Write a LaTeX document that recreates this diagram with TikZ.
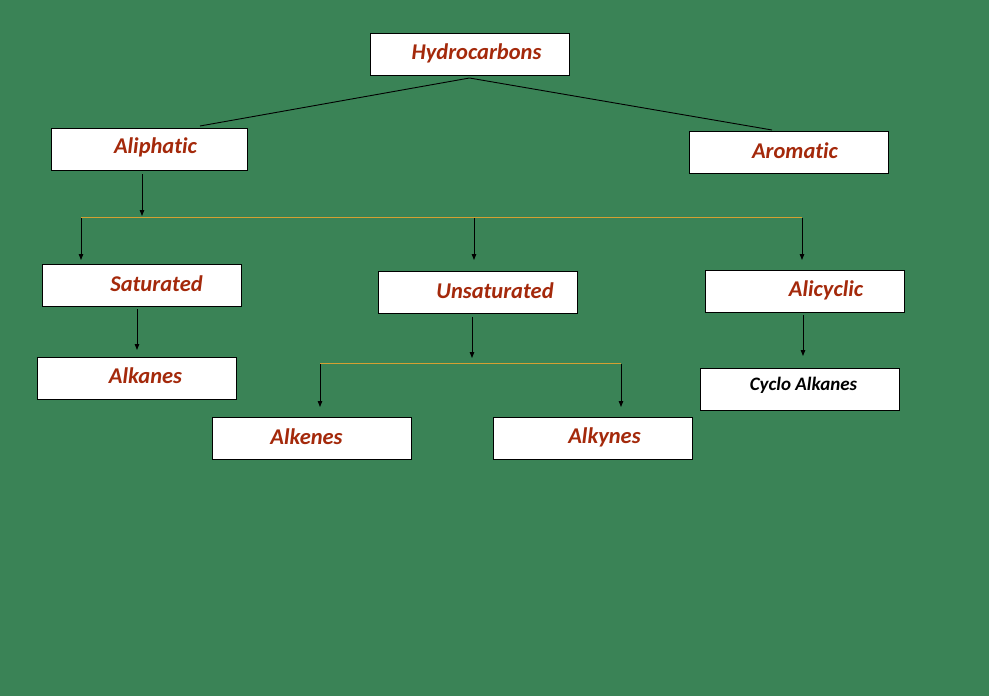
\documentclass[tikz,border=0pt]{standalone}
\usepackage{fontspec}
\setmainfont{Carlito}[RawFeature=-liga]
\usetikzlibrary{arrows.meta,calc}
\definecolor{bggreen}{HTML}{3A8356}
\definecolor{txtred}{HTML}{A4290B}
\definecolor{busline}{HTML}{D4A032}
\tikzset{
  box/.style={draw=black, line width=1pt, fill=white, minimum width=199pt, minimum height=42pt, inner sep=0pt, anchor=north west},
  lbl/.style={text=txtred, font=\fontsize{22.5}{26}\selectfont\bfseries\itshape, inner sep=0pt},
  lblk/.style={text=black, font=\fontsize{19}{22}\selectfont\bfseries\itshape, inner sep=0pt},
  conn/.style={draw=black, line width=0.9pt},
  arr/.style={draw=black, line width=0.9pt, -{Triangle[length=6pt,width=4.5pt]}},
  bus/.style={draw=busline, line width=0.9pt}
}
\begin{document}
\begin{tikzpicture}[x=1pt,y=-1pt]
\fill[bggreen] (0,0) rectangle (989,696);
\useasboundingbox (0,0) rectangle (989,696);
% boxes
\node[box] (hyd) at (370,33) {};
\node[box, minimum width=196pt] (ali) at (51,128) {};
\node[box] (aro) at (689,131) {};
\node[box] (sat) at (42,264) {};
\node[box] (uns) at (378,271) {};
\node[box] (acy) at (705,270) {};
\node[box] (alk) at (37,357) {};
\node[box] (ene) at (212,417) {};
\node[box] (yne) at (493,417) {};
\node[box] (cyc) at (700,368) {};
% texts
\node[lbl] (hydT) at (476.5,53) {Hydrocarbons};
\node[lbl] (aliT) at (155.5,147) {Aliphatic};
\node[lbl] (aroT) at (795,151) {Aromatic};
\node[lbl] (satT) at (156.5,284) {Saturated};
\node[lbl] (unsT) at (495,291) {Unsaturated};
\node[lbl] (acyT) at (826,290) {Alicyclic};
\node[lbl] (alkT) at (145.5,376) {Alkanes};
\node[lbl] (eneT) at (306.5,437) {Alkenes};
\node[lbl] (yneT) at (604.5,437) {Alkynes};
\node[lblk] (cycT) at (803.5,385) {Cyclo Alkanes};
% top connectors
\coordinate (hydB) at ($(hyd.south)+(-0.5,2)$);
\coordinate (aliTop) at ($(ali.north west)+(149,-2)$);
\coordinate (aroTop) at ($(aro.north west)+(83,-1)$);
\draw[conn] (hydB) -- (aliTop);
\draw[conn] (hydB) -- (aroTop);
% aliphatic branch
\coordinate (aliB) at (142,174);
\coordinate (bus1L) at (81,217);
\coordinate (bus1M) at (474,217);
\coordinate (bus1R) at (802,217);
\coordinate (bus1Mid) at (142,216);
\draw[bus] (bus1L) -- (bus1R);
\draw[arr] (aliB) -- (bus1Mid);
\draw[arr] ($(bus1L)+(0,1)$) -- ($(sat.north west)+(39,-4)$);
\draw[arr] ($(bus1M)+(0,1)$) -- ($(uns.north west)+(96,-11)$);
\draw[arr] ($(bus1R)+(0,1)$) -- ($(acy.north west)+(97,-10)$);
% saturated
\draw[arr] ($(sat.south west)+(95,2)$) -- ($(alk.north west)+(100,-7)$);
% unsaturated branch
\coordinate (bus2L) at (320,363);
\coordinate (bus2M) at (472,358);
\coordinate (bus2R) at (621,363);
\draw[arr] ($(uns.south west)+(94,3)$) -- (bus2M);
\draw[bus] (bus2L) -- (bus2R);
\draw[arr] ($(bus2L)+(0,1)$) -- ($(ene.north west)+(108,-10)$);
\draw[arr] ($(bus2R)+(0,1)$) -- ($(yne.north west)+(128,-10)$);
% alicyclic
\draw[arr] ($(acy.south west)+(98,2)$) -- ($(cyc.north west)+(103,-12)$);
\end{tikzpicture}
\end{document}
